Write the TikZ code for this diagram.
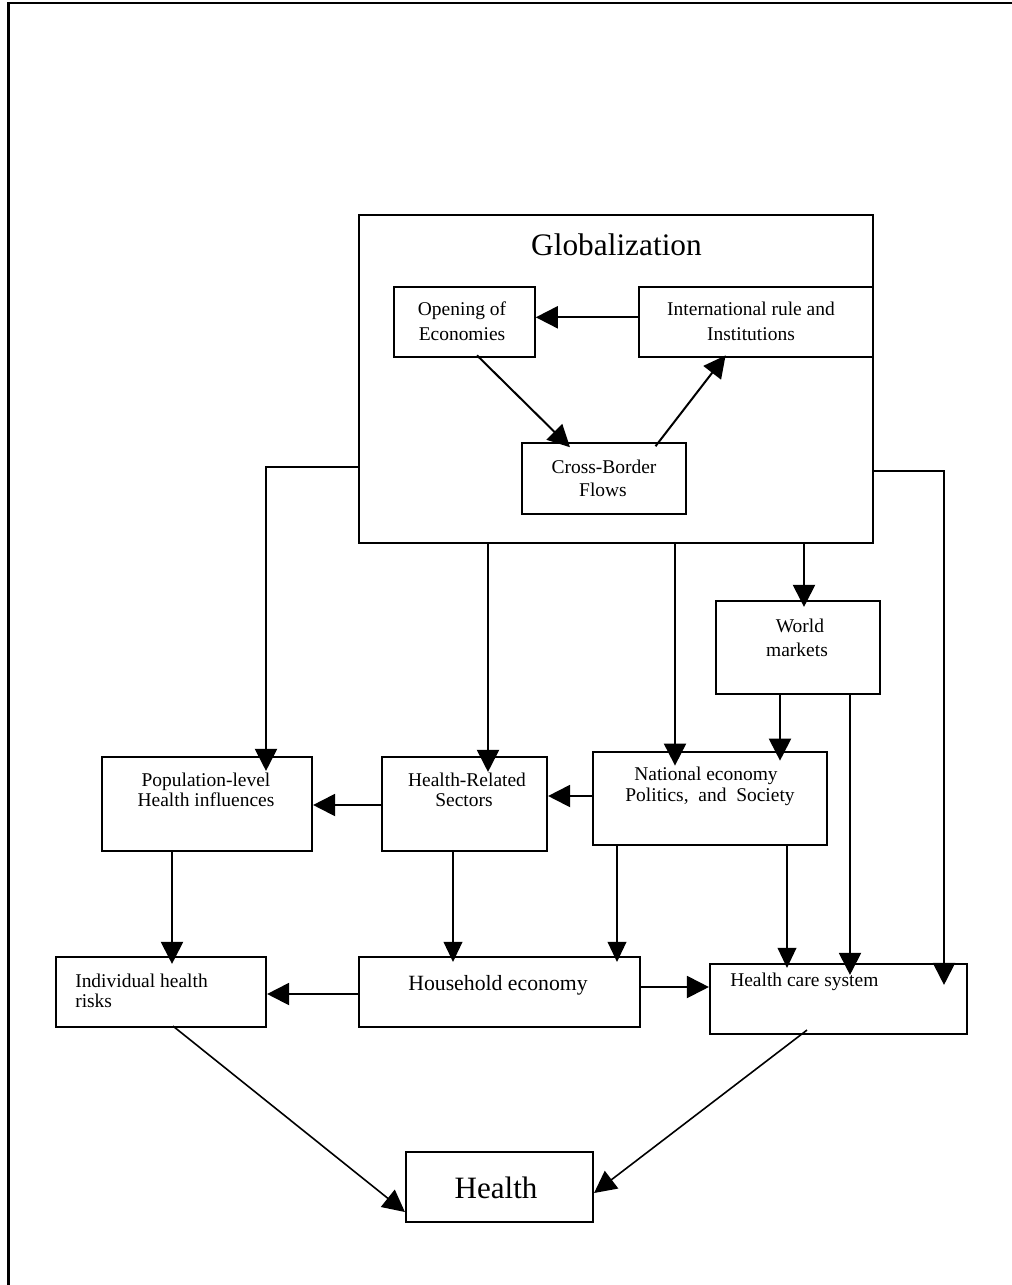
\documentclass[tikz,border=0pt]{standalone}
\usepackage{fontspec}
\setmainfont{Liberation Serif}
\usetikzlibrary{arrows.meta}
\tikzset{
  box/.style={draw, line width=1.6pt, inner sep=0pt, fill=none},
  conn/.style={line width=1.5pt, -{Triangle[length=16.5pt,width=16.5pt]}},
  thinconn/.style={line width=1.1pt, -{Triangle[length=15pt,width=14pt]}},
  sm/.style={inner sep=0pt, font=\fontsize{14.6}{17}\selectfont},
  md/.style={inner sep=0pt, font=\fontsize{16.3}{19}\selectfont},
  lg/.style={inner sep=0pt, font=\fontsize{23.5}{27}\selectfont},
}
\newcommand\pxbox[5]{\node[box, minimum width={(#4-#2)*0.75pt}, minimum height={(#5-#3)*0.75pt}] (#1) at ({(#2+#4)/2},{(#3+#5)/2}) {};}
\begin{document}
\begin{tikzpicture}[x=0.75pt,y=-0.75pt]
\useasboundingbox (0,0) rectangle (1012,1285);
\clip (0,0) rectangle (1012,1285);
% outer frame (only top and left visible)
\draw[line width=1.6pt] (8.5,1300) -- (8.5,3) -- (1030,3);

% boxes
\pxbox{glob}{358.6}{215}{873}{542.7}
\pxbox{open}{394}{287.3}{534.7}{357.3}
\pxbox{intl}{639}{287.3}{873}{357.3}
\pxbox{cross}{522}{443.3}{686}{514}
\pxbox{world}{716}{601}{880}{694}
\pxbox{pop}{102}{757}{312}{851}
\pxbox{hr}{382}{757}{547}{851}
\pxbox{nat}{593}{752}{827}{845}
\pxbox{ind}{56}{957}{266}{1027}
\pxbox{hh}{359}{957}{640}{1027}
\pxbox{hc}{710}{964}{967}{1034}
\pxbox{health}{406}{1152}{593}{1222}

% texts
\node[lg, anchor=base] (tglob) at (616.5,255) {Globalization};
\node[sm, anchor=base] (topen1) at (462,315) {Opening of};
\node[sm, anchor=base] (topen2) at (462,340) {Economies};
\node[sm, anchor=base] (tintl1) at (751,315) {International rule and};
\node[sm, anchor=base] (tintl2) at (751,340) {Institutions};
\node[sm, anchor=base] (tcross1) at (604,473) {Cross-Border};
\node[sm, anchor=base] (tcross2) at (603,496.7) {Flows};
\node[sm, anchor=base] (tworld1) at (800,632.7) {World};
\node[sm, anchor=base] (tworld2) at (797,656.7) {markets};
\node[sm, anchor=base] (tpop1) at (206,786.7) {Population-level};
\node[sm, anchor=base] (tpop2) at (206,806.7) {Health influences};
\node[sm, anchor=base] (thr1) at (467,786.7) {Health-Related};
\node[sm, anchor=base] (thr2) at (464,806.7) {Sectors};
\node[sm, anchor=base] (tnat1) at (706,780.7) {National economy};
\node[sm, anchor=base] (tnat2) at (710,801.7) {Politics,\ \ and\ \ Society};
\node[sm, anchor=base west] (tind1) at (75,987) {Individual health};
\node[sm, anchor=base west] (tind2) at (75,1007) {risks};
\node[md, anchor=base] (thh) at (498,990) {Household economy};
\node[sm, anchor=base west] (thc) at (730,986) {Health care system};
\node[lg, anchor=base, font=\fontsize{23.3}{27}\selectfont] (thealth) at (496,1198) {Health};

% connectors inside globalization
\draw[conn] (intl.west |- 0,317.3) -- (open.east |- 0,317.3);
\draw[conn] ([yshift=2.25pt]open.south -| 477,0) -- ([yshift=-3.75pt]cross.north -| 570,0);
\draw[conn] ([yshift=-3pt]cross.north -| 655.5,0) -- ([yshift=2.25pt]intl.south -| 725.6,0);

% from globalization
\draw[conn] (glob.west |- 0,466.7) -| ([yshift=-11.25pt]pop.north -| 266,0);
\draw[conn] (glob.south -| 488,0) -- ([yshift=-12pt]hr.north -| 488,0);
\draw[conn] (glob.south -| 675,0) -- ([yshift=-11pt]nat.north -| 675,0);
\draw[conn] (glob.south -| 804,0) -- ([yshift=-5.25pt]world.north -| 804,0);
\draw[conn] (glob.east |- 0,470.7) -| ([yshift=-16.5pt]hc.north -| 944,0);

% from world markets
\draw[conn] (world.south -| 780,0) -- ([yshift=-7.3pt]nat.north -| 780,0);
\draw[conn] (world.south -| 850,0) -- ([yshift=-9pt]hc.north -| 850,0);

% middle row
\draw[conn] (nat.west |- 0,796) -- (hr.east |- 0,796);
\draw[conn] (hr.west |- 0,805) -- (pop.east |- 0,805);

% down to lower row
\draw[conn] (pop.south -| 172,0) -- ([yshift=-6pt]ind.north -| 172,0);
\draw[thinconn] (hr.south -| 453,0) -- ([yshift=-4.5pt]hh.north -| 453,0);
\draw[thinconn] (nat.south -| 617,0) -- ([yshift=-4.5pt]hh.north -| 617,0);
\draw[thinconn] (nat.south -| 787,0) -- ([yshift=-3.75pt]hc.north -| 787,0);

% lower row
\draw[conn] (hh.west |- 0,994) -- (ind.east |- 0,994);
\draw[conn] (hh.east |- 0,987) -- (hc.west |- 0,987);

% to health
\draw[conn, line width=1.2pt] ([yshift=1.5pt]ind.south -| 173,0) -- ([yshift=-18.75pt]health.west);
\draw[conn, line width=1.2pt] ([yshift=3.75pt]hc.south -| 807,0) -- ([yshift=-4.5pt]health.east);
\end{tikzpicture}
\end{document}
